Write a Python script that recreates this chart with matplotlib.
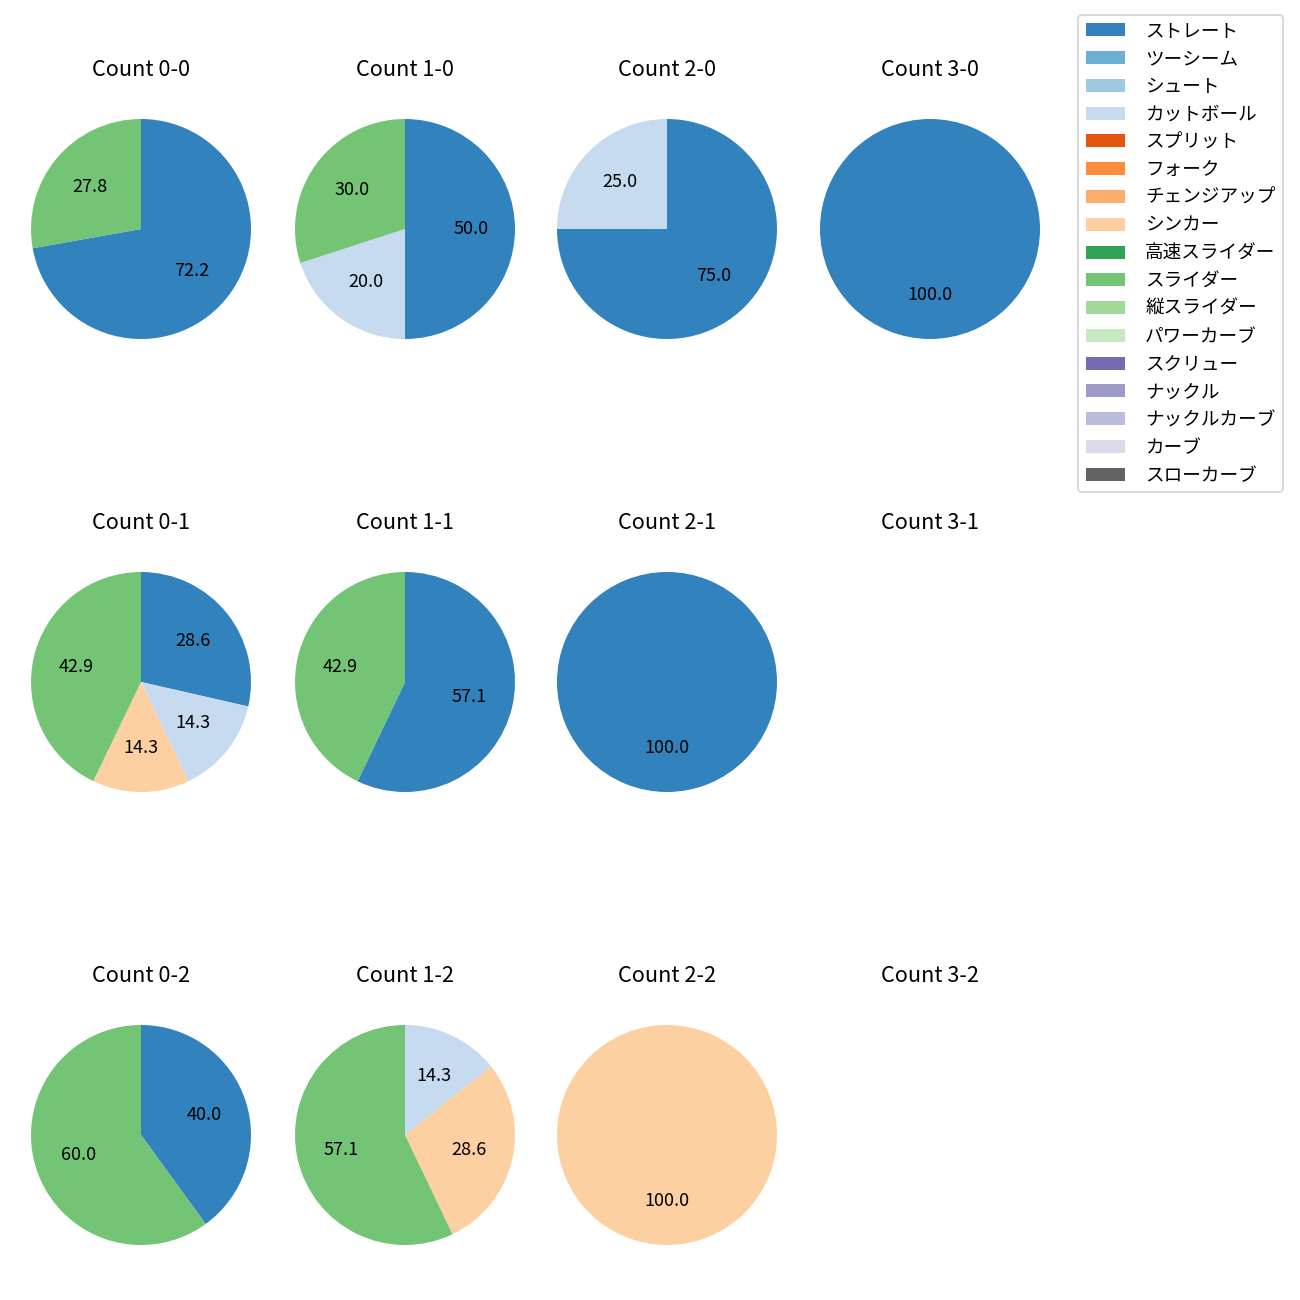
import matplotlib
matplotlib.use("Agg")
import matplotlib.pyplot as plt
from matplotlib.patches import Patch

plt.rcParams['font.family'] = ['Noto Sans CJK JP', 'DejaVu Sans']

pitch_types = ['ストレート', 'ツーシーム', 'シュート', 'カットボール', 'スプリット', 'フォーク',
               'チェンジアップ', 'シンカー', '高速スライダー', 'スライダー', '縦スライダー',
               'パワーカーブ', 'スクリュー', 'ナックル', 'ナックルカーブ', 'カーブ', 'スローカーブ']

count_labels = ['0-0', '1-0', '2-0', '3-0',
                '0-1', '1-1', '2-1', '3-1',
                '0-2', '1-2', '2-2', '3-2']

# percentage share per count (same order as count_labels)
straight = [72.2, 50.0, 75.0, 100.0, 28.6, 57.1, 100.0, 0, 40.0, 0, 0, 0]
cutter   = [0, 20.0, 25.0, 0, 14.3, 0, 0, 0, 0, 14.3, 0, 0]
sinker   = [0, 0, 0, 0, 14.3, 0, 0, 0, 0, 28.6, 100.0, 0]
slider   = [27.8, 30.0, 0, 0, 42.9, 42.9, 0, 0, 60.0, 57.1, 0, 0]

series = {'ストレート': straight, 'カットボール': cutter, 'シンカー': sinker, 'スライダー': slider}

cmap = plt.get_cmap('tab20c')
colors = {p: cmap(i) for i, p in enumerate(pitch_types)}

W, H = 1300, 1300
fig = plt.figure(figsize=(10, 10), dpi=130)

col_cx = [141, 405, 667, 930]
row_cy = [229, 682, 1135]
radius = 110
side = 2.5 * radius

for k, cnt in enumerate(count_labels):
    r, c = divmod(k, 4)
    cx, cy = col_cx[c], row_cy[r]
    ax = fig.add_axes([(cx - side / 2) / W, 1 - (cy + side / 2) / H, side / W, side / H])
    vals, cols = [], []
    for p in pitch_types:
        if p in series and series[p][k] > 0:
            vals.append(series[p][k])
            cols.append(colors[p])
    if vals:
        ax.pie(vals, colors=cols, autopct='%.1f', startangle=90, counterclock=False,
               textprops={'fontsize': 10})
    else:
        ax.axis('off')
    ax.set_title(f'Count {cnt}', fontsize=12, pad=8.8)

handles = [Patch(facecolor=colors[p], label=p) for p in pitch_types]
fig.legend(handles=handles, loc='upper right', bbox_to_anchor=(1283 / W, 1 - 15 / H),
           borderaxespad=0, fontsize=10.3, handlelength=2.1, handletextpad=1.1,
           labelspacing=0.525)

fig.savefig('out.png', dpi=130)
